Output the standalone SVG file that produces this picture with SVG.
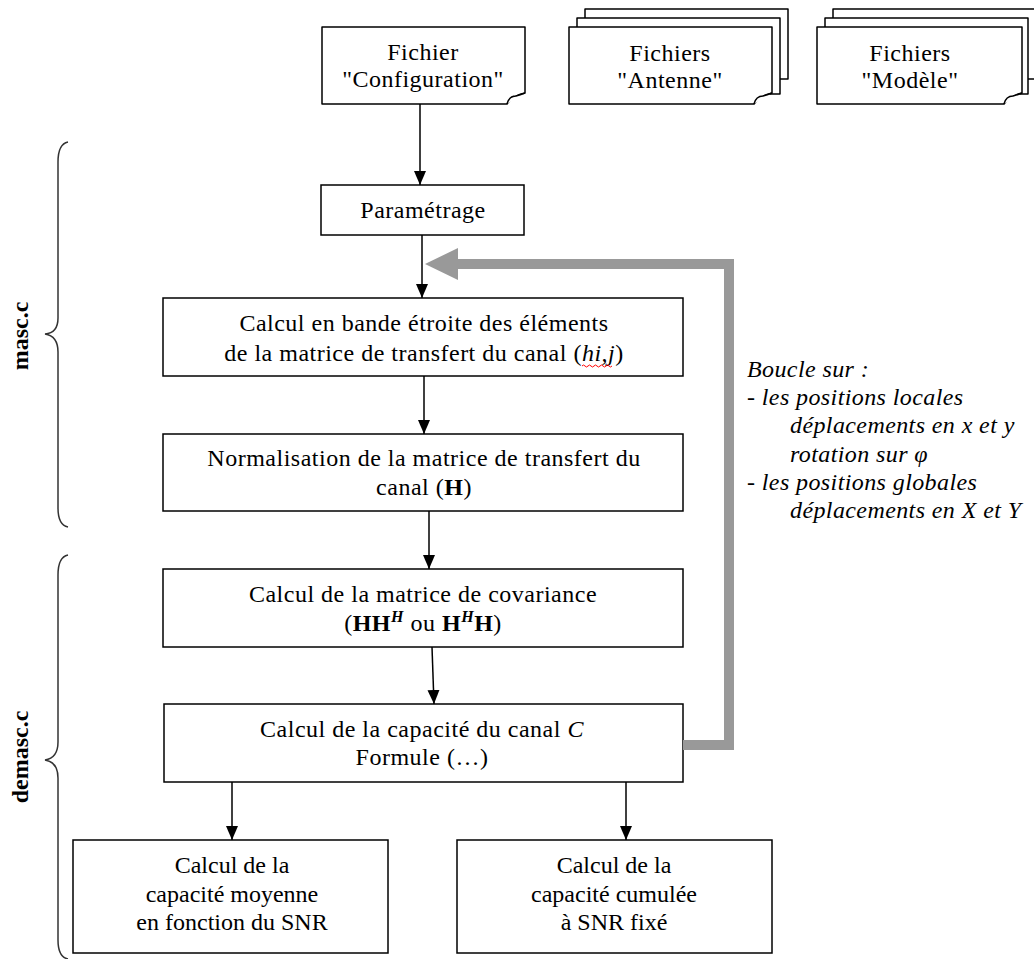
<svg xmlns="http://www.w3.org/2000/svg" width="1034" height="959" viewBox="0 0 1034 959">
<style>
  .box { fill: #ffffff; stroke: #000000; stroke-width: 1.5; }
  .page { fill: #ffffff; stroke: #000000; stroke-width: 1.5; stroke-linejoin: round; }
  .t { font-family: "Liberation Serif", "Times New Roman", serif; font-size: 24px; letter-spacing: 0.5px; fill: #000000; text-anchor: middle; }
  .tb { font-family: "Liberation Serif", "Times New Roman", serif; font-size: 24px; fill: #000000; text-anchor: middle; }
  .it { font-style: italic; }
  .b { font-weight: bold; }
  .side { font-family: "Liberation Serif", "Times New Roman", serif; font-size: 24px; font-weight: bold; fill: #000000; text-anchor: middle; }
  .note { font-family: "Liberation Serif", "Times New Roman", serif; font-size: 24px; letter-spacing: 0.4px; font-style: italic; fill: #000000; }
  .conn { stroke: #000000; stroke-width: 1.5; fill: none; marker-end: url(#arrow); }
  .loop { stroke: #999999; stroke-width: 10; fill: none; stroke-linejoin: miter; }
  .brace { stroke: #333333; stroke-width: 1.5; fill: none; }
</style>
<defs>
  <marker id="arrow" markerUnits="userSpaceOnUse" markerWidth="14" markerHeight="14" viewBox="0 0 14 14" refX="14" refY="7" orient="auto">
    <path d="M0,1 L14,7 L0,13 Z" fill="#000000"/>
  </marker>
</defs>
<rect width="1034" height="959" fill="#ffffff"/>

<!-- braces and side labels -->
<g id="brace-masc">
  <path class="brace" d="M68,142 Q58,144 58,162 L58,318 Q58,333 45,334 Q58,336 58,352 L58,508 Q58,525 68,527"/>
  <text class="side" transform="translate(28,336) rotate(-90)">masc.c</text>
</g>
<g id="brace-demasc">
  <path class="brace" d="M68,555 Q58,557 58,575 L58,742 Q58,758 45,760 Q58,762 58,778 L58,940 Q58,957 68,959"/>
  <text class="side" transform="translate(28,757) rotate(-90)">demasc.c</text>
</g>

<!-- file nodes -->
<g id="fichier-configuration">
  <path class="page" d="M322,27 H525 V93 Q514,95 507,104 H322 Z"/>
  <path class="page" d="M507,104 Q509,96 516,96 Q520,95 525,93"/>
  <text class="t" x="423" y="60">Fichier</text>
  <text class="t" x="423" y="87">"Configuration"</text>
</g>
<g id="fichiers-antenne">
  <rect class="page" x="585" y="9" width="203" height="70"/>
  <rect class="page" x="577" y="18" width="203" height="76"/>
  <path class="page" d="M569,27 H772 V93 Q761,95 754,104 H569 Z"/>
  <path class="page" d="M754,104 Q756,96 763,96 Q767,95 772,93"/>
  <text class="t" x="670" y="61">Fichiers</text>
  <text class="t" x="670" y="88">"Antenne"</text>
</g>
<g id="fichiers-modele">
  <rect class="page" x="833" y="9" width="203" height="70"/>
  <rect class="page" x="825" y="18" width="203" height="76"/>
  <path class="page" d="M817,27 H1022 V93 Q1011,95 1004,104 H817 Z"/>
  <path class="page" d="M1004,104 Q1006,96 1013,96 Q1017,95 1022,93"/>
  <text class="t" x="910" y="61">Fichiers</text>
  <text class="t" x="910" y="88">"Modèle"</text>
</g>

<!-- process nodes -->
<g id="parametrage">
  <rect class="box" x="321" y="185" width="203" height="50"/>
  <text class="t" x="423" y="218">Paramétrage</text>
</g>
<g id="calcul-bande-etroite">
  <rect class="box" x="163" y="298" width="520" height="78"/>
  <text class="t" x="424" y="331">Calcul en bande étroite des éléments</text>
  <text class="t" x="424" y="361">de la matrice de transfert du canal (<tspan class="it">hi,j</tspan>)</text>
  <path d="M582,366 q1.5,-2 3,0 t3,0 t3,0 t3,0 t3,0 t3,0 t3,0 t3,0 t3,0 t3,0" stroke="#ff0000" stroke-width="1" fill="none"/>
</g>
<g id="normalisation">
  <rect class="box" x="163" y="434" width="520" height="77"/>
  <text class="t" x="424" y="466">Normalisation de la matrice de transfert du</text>
  <text class="t" x="424" y="495">canal (<tspan class="b">H</tspan>)</text>
</g>
<g id="covariance">
  <rect class="box" x="163" y="569" width="520" height="78"/>
  <text class="t" x="423" y="602">Calcul de la matrice de covariance</text>
  <text class="t" x="423" y="631">(<tspan class="b">HH</tspan><tspan class="b it" font-size="16" dy="-9">H</tspan><tspan dy="9"> ou </tspan><tspan class="b">H</tspan><tspan class="b it" font-size="16" dy="-9">H</tspan><tspan class="b" dy="9">H</tspan>)</text>
</g>
<g id="capacite">
  <rect class="box" x="164" y="704" width="519" height="78"/>
  <text class="t" x="422" y="737">Calcul de la capacité du canal <tspan class="it">C</tspan></text>
  <text class="t" x="422" y="765">Formule (…)</text>
</g>
<g id="capacite-moyenne">
  <rect class="box" x="73" y="840" width="315" height="113"/>
  <text class="tb" x="232" y="873">Calcul de la</text>
  <text class="tb" x="232" y="902">capacité moyenne</text>
  <text class="tb" x="232" y="930">en fonction du SNR</text>
</g>
<g id="capacite-cumulee">
  <rect class="box" x="457" y="840" width="315" height="113"/>
  <text class="tb" x="614" y="873">Calcul de la</text>
  <text class="tb" x="614" y="902">capacité cumulée</text>
  <text class="tb" x="614" y="930">à SNR fixé</text>
</g>

<!-- loop note -->
<g id="boucle-note">
  <text class="note" x="747" y="377">Boucle sur :</text>
  <text class="note" x="747" y="405">- les positions locales</text>
  <text class="note" x="790" y="433">déplacements en x et y</text>
  <text class="note" x="790" y="462">rotation sur φ</text>
  <text class="note" x="747" y="490">- les positions globales</text>
  <text class="note" x="790" y="518">déplacements en X et Y</text>
</g>

<!-- connectors -->
<g id="connectors">
  <path class="conn" d="M420,104 L420,185"/>
  <path class="conn" d="M422,235 L422,298"/>
  <path class="conn" d="M424,376 L424,434"/>
  <path class="conn" d="M429,511 L429,569"/>
  <path class="conn" d="M432,647 L434,704"/>
  <path class="conn" d="M232,782 L232,840"/>
  <path class="conn" d="M626,782 L626,840"/>
  <path class="loop" d="M683,745 H729 V264 H455"/>
  <polygon points="425,264 458,248 458,280" fill="#999999"/>
</g>
</svg>
